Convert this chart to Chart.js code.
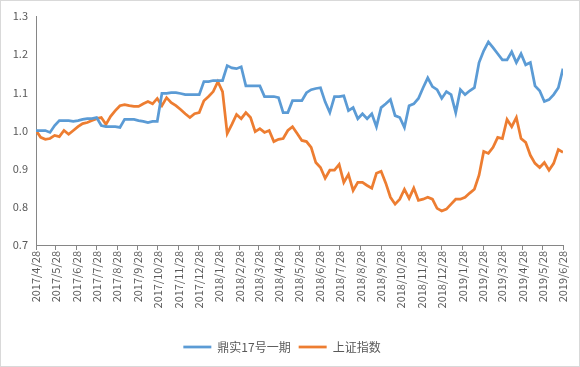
<!DOCTYPE html>
<html>
<head>
<meta charset="utf-8">
<script src="https://cdn.jsdelivr.net/npm/chart.js@4/dist/chart.umd.min.js"></script>
<style>
  body { margin: 0; background: #fff; }
  #wrap { width: 580px; height: 367px; border: 1px solid #d9d9d9; box-sizing: border-box; }
</style>
</head>
<body>
<div id="wrap"><canvas id="nav-chart" width="578" height="365"></canvas></div>
<script>
'use strict';

// weekly dates (Fridays)
var weekDates = [
  '2017/4/28', '2017/5/5', '2017/5/12', '2017/5/19', '2017/5/26', '2017/6/2', '2017/6/9', '2017/6/16',
  '2017/6/23', '2017/6/30', '2017/7/7', '2017/7/14', '2017/7/21', '2017/7/28', '2017/8/4', '2017/8/11',
  '2017/8/18', '2017/8/25', '2017/9/1', '2017/9/8', '2017/9/15', '2017/9/22', '2017/9/29', '2017/10/6',
  '2017/10/13', '2017/10/20', '2017/10/27', '2017/11/3', '2017/11/10', '2017/11/17', '2017/11/24', '2017/12/1',
  '2017/12/8', '2017/12/15', '2017/12/22', '2017/12/29',
  '2018/1/5', '2018/1/12', '2018/1/19', '2018/1/26', '2018/2/2', '2018/2/9', '2018/2/16', '2018/2/23',
  '2018/3/2', '2018/3/9', '2018/3/16', '2018/3/23', '2018/3/30', '2018/4/6', '2018/4/13', '2018/4/20',
  '2018/4/27', '2018/5/4', '2018/5/11', '2018/5/18', '2018/5/25', '2018/6/1', '2018/6/8', '2018/6/15',
  '2018/6/22', '2018/6/29', '2018/7/6', '2018/7/13', '2018/7/20', '2018/7/27', '2018/8/3', '2018/8/10',
  '2018/8/17', '2018/8/24', '2018/8/31', '2018/9/7', '2018/9/14', '2018/9/21', '2018/9/28', '2018/10/5',
  '2018/10/12', '2018/10/19', '2018/10/26', '2018/11/2', '2018/11/9', '2018/11/16', '2018/11/23', '2018/11/30',
  '2018/12/7', '2018/12/14', '2018/12/21', '2018/12/28',
  '2019/1/4', '2019/1/11', '2019/1/18', '2019/1/25', '2019/2/1', '2019/2/8', '2019/2/15', '2019/2/22',
  '2019/3/1', '2019/3/8', '2019/3/15', '2019/3/22', '2019/3/29', '2019/4/5', '2019/4/12', '2019/4/19',
  '2019/4/26', '2019/5/3', '2019/5/10', '2019/5/17', '2019/5/24', '2019/5/31', '2019/6/7', '2019/6/14',
  '2019/6/21', '2019/6/28'
];

var fundValues = [
  1.000, 1.000, 1.000, 0.995, 1.013, 1.026, 1.026, 1.026, 1.024, 1.026,
  1.029, 1.031, 1.031, 1.034, 1.013, 1.010, 1.010, 1.010, 1.008, 1.029,
  1.029, 1.029, 1.026, 1.024, 1.021, 1.024, 1.024, 1.097, 1.097, 1.099,
  1.099, 1.097, 1.094, 1.094, 1.094, 1.094, 1.128, 1.128, 1.131, 1.131,
  1.131, 1.170, 1.164, 1.162, 1.167, 1.117, 1.117, 1.117, 1.117, 1.089,
  1.089, 1.089, 1.086, 1.047, 1.047, 1.078, 1.078, 1.078, 1.099, 1.107,
  1.110, 1.112, 1.075, 1.047, 1.089, 1.089, 1.091, 1.052, 1.060, 1.031,
  1.044, 1.031, 1.044, 1.010, 1.060, 1.070, 1.081, 1.039, 1.034, 1.008,
  1.065, 1.070, 1.084, 1.112, 1.138, 1.115, 1.107, 1.084, 1.102, 1.094,
  1.047, 1.107, 1.094, 1.104, 1.112, 1.178, 1.209, 1.232, 1.217, 1.201,
  1.185, 1.185, 1.206, 1.178, 1.201, 1.172, 1.178, 1.117, 1.104, 1.076,
  1.081, 1.094, 1.112, 1.162
];

var indexValues = [
  1.000, 0.982, 0.977, 0.979, 0.987, 0.984, 1.000, 0.990, 1.000, 1.010,
  1.018, 1.021, 1.026, 1.031, 1.034, 1.016, 1.037, 1.052, 1.065, 1.068,
  1.065, 1.063, 1.063, 1.070, 1.076, 1.070, 1.084, 1.065, 1.086, 1.073,
  1.065, 1.055, 1.044, 1.034, 1.044, 1.047, 1.078, 1.089, 1.102, 1.128,
  1.102, 0.992, 1.016, 1.042, 1.031, 1.047, 1.034, 0.997, 1.005, 0.995,
  1.000, 0.971, 0.977, 0.979, 1.000, 1.010, 0.992, 0.974, 0.971, 0.956,
  0.916, 0.903, 0.875, 0.896, 0.896, 0.911, 0.864, 0.885, 0.843, 0.864,
  0.864, 0.856, 0.849, 0.888, 0.893, 0.862, 0.825, 0.807, 0.820, 0.846,
  0.822, 0.849, 0.817, 0.820, 0.825, 0.820, 0.796, 0.789, 0.794, 0.807,
  0.820, 0.820, 0.825, 0.836, 0.846, 0.883, 0.945, 0.940, 0.956, 0.982,
  0.979, 1.029, 1.010, 1.034, 0.979, 0.969, 0.935, 0.914, 0.903, 0.916,
  0.896, 0.914, 0.950, 0.943
];

var tickLabels = [
  '2017/4/28', '2017/5/28', '2017/6/28', '2017/7/28', '2017/8/28', '2017/9/28', '2017/10/28',
  '2017/11/28', '2017/12/28', '2018/1/28', '2018/2/28', '2018/3/28', '2018/4/28', '2018/5/28',
  '2018/6/28', '2018/7/28', '2018/8/28', '2018/9/28', '2018/10/28', '2018/11/28', '2018/12/28',
  '2019/1/28', '2019/2/28', '2019/3/28', '2019/4/28', '2019/5/28', '2019/6/28'
];

var seriesNames = ['鼎实17号一期', '上证指数'];

// days since the first date, so the x axis is a real date axis
function dayOffset(str) {
  var p = str.split('/');
  var first = weekDates[0].split('/');
  return (Date.UTC(+p[0], +p[1] - 1, +p[2]) - Date.UTC(+first[0], +first[1] - 1, +first[2])) / 86400000;
}

function toPoints(values) {
  var pts = [];
  for (var i = 0; i < values.length; i++) {
    pts.push({ x: dayOffset(weekDates[i]), y: values[i] });
  }
  return pts;
}

var textColor = '#595959';
var axisColor = '#868686';
var font = { family: '"Noto Sans CJK SC", "Noto Sans", sans-serif', size: 11 };

var ctx = document.getElementById('nav-chart').getContext('2d');

var navChart = new Chart(ctx, {
  type: 'line',
  data: {
    datasets: [
      {
        label: seriesNames[0],
        data: toPoints(fundValues),
        borderColor: '#5B9BD5',
        backgroundColor: '#5B9BD5',
        borderWidth: 2.75,
        pointRadius: 0,
        tension: 0
      },
      {
        label: seriesNames[1],
        data: toPoints(indexValues),
        borderColor: '#ED7D31',
        backgroundColor: '#ED7D31',
        borderWidth: 2.75,
        pointRadius: 0,
        tension: 0
      }
    ]
  },
  options: {
    responsive: false,
    animation: false,
    layout: { padding: { left: 0, right: 16, top: 15, bottom: 3 } },
    plugins: {
      tooltip: { enabled: false },
      legend: {
        position: 'bottom',
        labels: {
          color: textColor,
          font: { family: font.family, size: 12 },
          usePointStyle: true,
          pointStyle: 'line',
          pointStyleWidth: 28,
          boxHeight: 12,
          padding: 8
        }
      }
    },
    scales: {
      x: {
        type: 'linear',
        min: 0,
        max: dayOffset(tickLabels[tickLabels.length - 1]),
        afterBuildTicks: function (axis) {
          axis.ticks = tickLabels.map(function (l) { return { value: dayOffset(l) }; });
        },
        afterFit: function (axis) { axis.height = 88; },
        ticks: {
          autoSkip: false,
          minRotation: 90,
          maxRotation: 90,
          color: textColor,
          font: font,
          padding: 1,
          callback: function (value, index) { return tickLabels[index]; }
        },
        grid: { drawOnChartArea: false, drawTicks: true, tickLength: 5, color: axisColor },
        border: { display: true, color: axisColor, width: 1 }
      },
      y: {
        min: 0.7,
        max: 1.3,
        afterFit: function (axis) { axis.width = 35; },
        ticks: { stepSize: 0.1, color: textColor, font: font, padding: 8 },
        grid: { display: false, drawTicks: false },
        border: { display: true, color: axisColor, width: 1 }
      }
    }
  }
});
</script>
</body>
</html>
